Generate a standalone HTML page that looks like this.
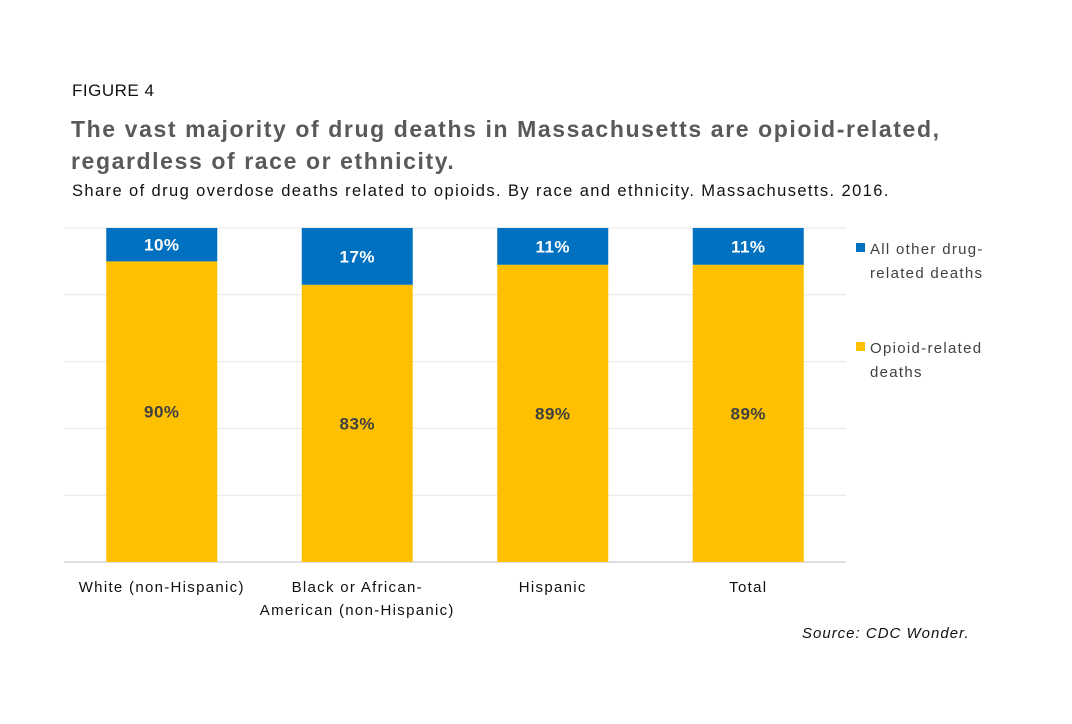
<!DOCTYPE html>
<html><head><meta charset="utf-8"><style>
body{margin:0;background:#fff;width:1072px;height:724px;overflow:hidden;font-family:"Liberation Sans",sans-serif;position:relative}
.t{position:absolute;white-space:nowrap}
</style></head><body>
<div class="t" style="left:72px;top:81px;font-size:17px;color:#111;letter-spacing:0.5px">FIGURE 4</div>
<div class="t" style="left:71px;top:113px;font-size:23px;font-weight:bold;color:#595959;line-height:32px;letter-spacing:1.6px">The vast majority of drug deaths in Massachusetts are opioid-related,<br>regardless of race or ethnicity.</div>
<div class="t" style="left:72px;top:182px;font-size:16.5px;color:#111;letter-spacing:1.4px">Share of drug overdose deaths related to opioids. By race and ethnicity. Massachusetts. 2016.</div>
<svg id="c" width="1072" height="724" style="position:absolute;left:0;top:0"></svg>
<div class="t" style="left:802px;top:625px;font-size:15px;font-style:italic;color:#111;letter-spacing:1px">Source: CDC Wonder.</div>
<script>
const categories=["White (non-Hispanic)","Black or African-|American (non-Hispanic)","Hispanic","Total"];
const opioid=[90,83,89,89];
const other=[10,17,11,11];
const ticks=[0,20,40,60,80,100];
const NS="http://www.w3.org/2000/svg";
const svg=document.getElementById('c');
const X0=64,X1=846,Y0=562,Y1=228,bw=111;
const y=v=>Y0-(v/100)*(Y0-Y1);
const xc=i=>X0+(i+0.5)*(X1-X0)/categories.length;
function mk(t,a){const e=document.createElementNS(NS,t);for(const k in a)e.setAttribute(k,a[k]);svg.appendChild(e);return e;}
ticks.forEach(v=>{const l=mk('line',{x1:X0,x2:X1,y1:y(v),y2:y(v),stroke:v===0?'#bfbfbf':'#e6e6e6','stroke-width':1});

});
categories.forEach((c,i)=>{
 const x=xc(i)-bw/2;
 const o=mk('rect',{x:x,y:y(opioid[i]),width:bw,height:Y0-y(opioid[i]),fill:'#ffc000'});
 
 
 const b=mk('rect',{x:x,y:y(opioid[i]+other[i]),width:bw,height:y(opioid[i])-y(opioid[i]+other[i]),fill:'#0070c0'});
 
 
 const t1=mk('text',{x:xc(i),y:(y(opioid[i])+Y0)/2+6,'text-anchor':'middle','font-size':17,'font-weight':'bold',fill:'#404040','letter-spacing':0.5});
 t1.textContent=opioid[i]+'%';
 
 
 const t2=mk('text',{x:xc(i),y:(y(opioid[i])+y(100))/2+6,'text-anchor':'middle','font-size':17,'font-weight':'bold',fill:'#fff','letter-spacing':0.5});
 t2.textContent=other[i]+'%';
 
 
 c.split('|').forEach((ln,j)=>{const t=mk('text',{x:xc(i),y:592+j*23,'text-anchor':'middle','font-size':15,fill:'#111','letter-spacing':1.3});t.textContent=ln;
 
 });
});
[['#0070c0',['All other drug-','related deaths'],249],['#ffc000',['Opioid-related','deaths'],348]].forEach(([col,lines,yy])=>{
 const r=mk('rect',{x:856,y:yy-6,width:9,height:9,fill:col});
 
 
 lines.forEach((ln,j)=>{const t=mk('text',{x:870,y:yy+5+j*24,'font-size':15,fill:'#404040','letter-spacing':1.3});t.textContent=ln;
 
 });
});
</script>
</body></html>
